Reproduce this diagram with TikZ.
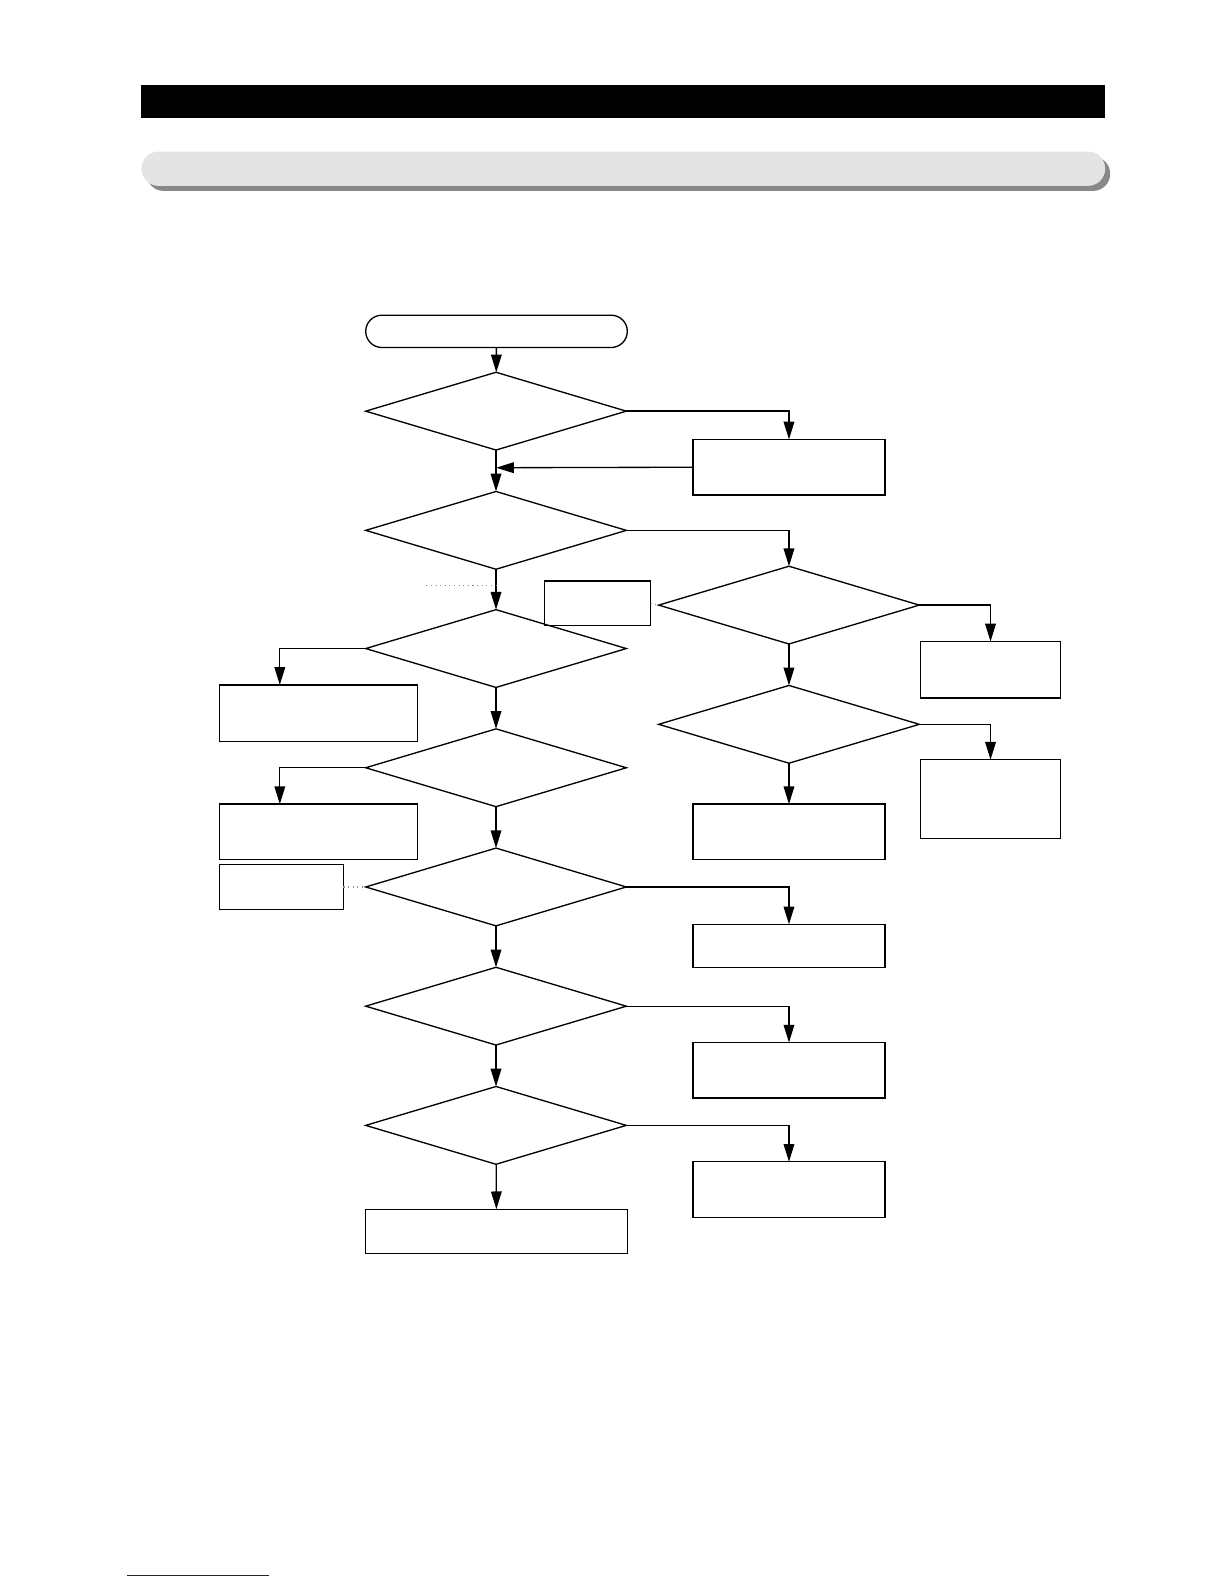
\documentclass[tikz,border=0pt]{standalone}
\usepackage{tikz}
\usetikzlibrary{positioning, arrows.meta, calc, shapes.geometric}
\definecolor{barfill}{HTML}{E4E4E4}
\definecolor{barshade}{HTML}{888888}
\definecolor{linkblue}{HTML}{1A1A8C}
\tikzset{
  decbox/.style={diamond, draw, line width=0.75pt, inner sep=0pt, outer sep=0pt,
    minimum width=5.16cm, minimum height=1.54cm},
  actbox/.style={rectangle, draw, line width=0.75pt, inner sep=0pt, outer sep=0pt},
  termbox/.style={rectangle, draw, line width=0.75pt, rounded corners=0.32cm,
    inner sep=0pt, outer sep=0pt, minimum width=5.18cm, minimum height=0.64cm},
  flow/.style={->, line width=0.75pt},
  note/.style={dotted, black!45, line width=0.6pt}
}

\begin{document}
\begin{tikzpicture}[x=0.02cm, y=-0.02cm, >={Triangle[length=10pt,width=6pt]}]
  \useasboundingbox (0,0) rectangle (1212,1568);
  % page header bars
  \fill[black] (140,84) rectangle (1094,117);
  \fill[barshade, rounded corners=0.34cm] (145,155) rectangle (1099,189);
  \fill[barfill, rounded corners=0.34cm] (140,150) rectangle (1094,184);
  % main column
  \node[termbox] (start) at (491.5,328) {};
  \node[decbox] (q1) at (491,407) {};
  \node[decbox] (q2) at (491,525) {};
  \node[decbox] (q3) at (491,642) {};
  \node[decbox] (q4) at (491,760) {};
  \node[decbox] (q5) at (491,878) {};
  \node[decbox] (q6) at (491,996) {};
  \node[decbox] (q7) at (491,1114) {};
  \node[actbox, minimum width=5.18cm, minimum height=0.88cm] (done) at (491.5,1219) {};
  % right column
  \node[decbox] (q8) at (781,599) {};
  \node[decbox] (q9) at (781,717) {};
  \node[actbox, minimum width=3.8cm, minimum height=1.1cm] (fix1) at (781,462.5) {};
  \node[actbox, minimum width=3.8cm, minimum height=1.1cm] (fix9) at (781,823.5) {};
  \node[actbox, minimum width=3.8cm, minimum height=0.86cm] (fix5) at (781,936.5) {};
  \node[actbox, minimum width=3.8cm, minimum height=1.1cm] (fix6) at (781,1059.5) {};
  \node[actbox, minimum width=3.8cm, minimum height=1.1cm] (fix7) at (781,1177.5) {};
  \node[actbox, minimum width=2.78cm, minimum height=1.12cm] (fix8a) at (980.5,663) {};
  \node[actbox, minimum width=2.78cm, minimum height=1.56cm] (fix8b) at (980.5,791) {};
  % left column
  \node[actbox, minimum width=3.92cm, minimum height=1.12cm] (fix3) at (315,706) {};
  \node[actbox, minimum width=3.92cm, minimum height=1.1cm] (fix4) at (315,823.5) {};
  % side notes
  \node[actbox, minimum width=2.1cm, minimum height=0.88cm] (memo1) at (591.5,597) {};
  \node[actbox, minimum width=2.46cm, minimum height=0.88cm] (memo2) at (278.5,878) {};
  \coordinate (tap) at (422,580);
  \coordinate (join) at (491,580);
  \coordinate (back) at (491,463);
  % vertical flow
  \draw[flow] (start) -- (q1);
  \draw[flow] (q1) -- (q2);
  \draw[flow] (q2) -- (q3);
  \draw[flow] (q3) -- (q4);
  \draw[flow] (q4) -- (q5);
  \draw[flow] (q5) -- (q6);
  \draw[flow] (q6) -- (q7);
  \draw[flow] (q7) -- (done);
  \draw[flow] (q8) -- (q9);
  \draw[flow] (q9) -- (fix9);
  % branches
  \draw[flow] (q1.east) -| (fix1.north);
  \draw[flow] (fix1.west) -- (back);
  \draw[flow] (q2.east) -| (q8.north);
  \draw[flow] (q8.east) -| (fix8a.north);
  \draw[flow] (q9.east) -| (fix8b.north);
  \draw[flow] (q3.west) -| ($(fix3.north west)!.306!(fix3.north east)$);
  \draw[flow] (q4.west) -| ($(fix4.north west)!.306!(fix4.north east)$);
  \draw[flow] (q5.east) -| (fix5.north);
  \draw[flow] (q6.east) -| (fix6.north);
  \draw[flow] (q7.east) -| (fix7.north);
  % dotted leaders
  \draw[note] (tap) -- (join);
  \draw[note] (memo1.east) -- (q8.west);
  \draw[note] (memo2.east) -- (q5.west);
  % link underline at foot
  \draw[linkblue, line width=0.6pt] (126,1560) -- (266,1560);
\end{tikzpicture}
\end{document}
